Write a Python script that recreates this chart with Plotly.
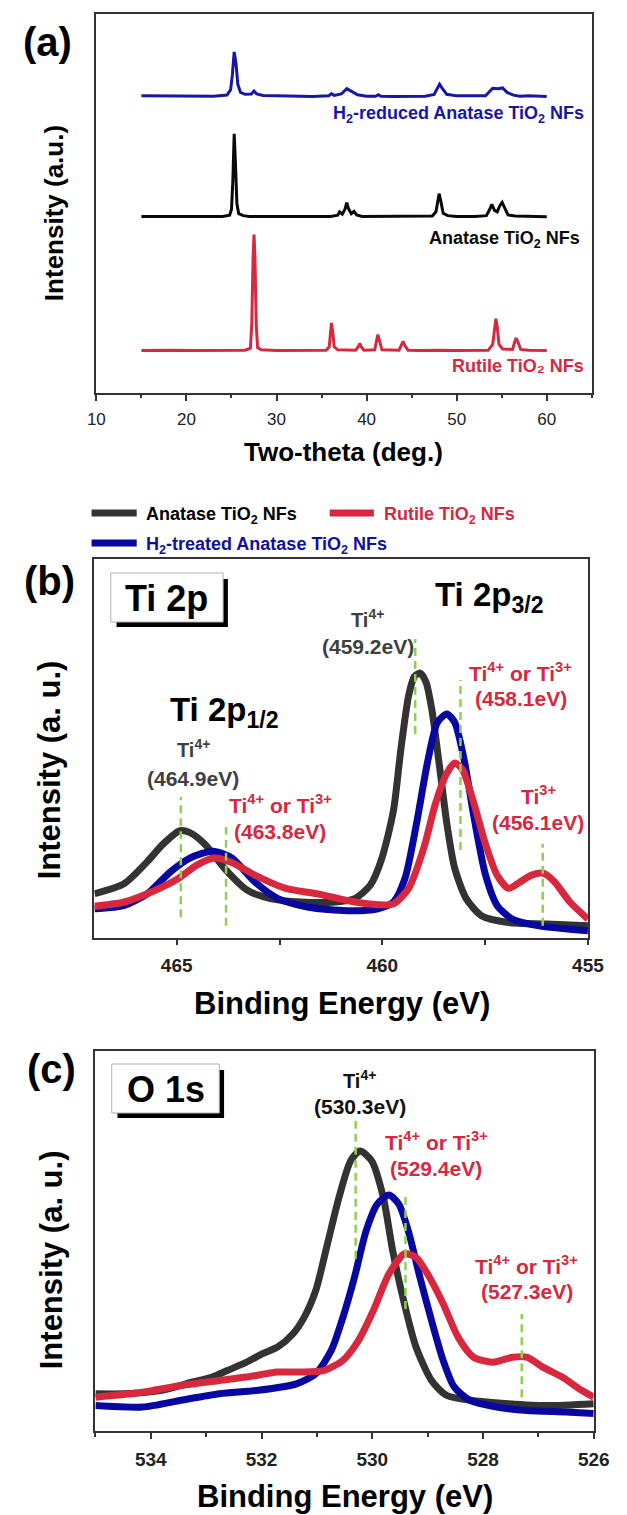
import plotly.graph_objects as go

W, H = 627, 1515
FONT = "Liberation Sans, Arial, sans-serif"

# ---------------- Panel (a): XRD data (two-theta, relative intensity) ----------------
xrd_h2_x = [15.0, 18.0, 21.0, 23.0, 24.5, 24.9, 25.1, 25.3, 25.5, 25.7, 26.0, 26.5, 27.2, 27.5, 27.8,
            28.5, 30.0, 32.0, 34.0, 35.8, 36.1, 36.4, 37.2, 37.8, 38.4, 39.0, 40.0, 41.0, 41.3, 41.6,
            43.0, 45.0, 46.5, 47.5, 47.9, 48.1, 48.4, 48.9, 50.0, 52.0, 53.2, 53.6, 54.0, 54.6, 55.1,
            55.6, 56.3, 57.0, 58.0, 60.0]
xrd_h2_y = [78.4, 78.3, 78.2, 78.3, 78.6, 80.0, 84.0, 90.0, 87.0, 81.5, 79.3, 78.8, 78.9, 79.7, 78.9,
            78.5, 78.4, 78.3, 78.2, 78.4, 79.0, 78.5, 78.9, 80.3, 79.6, 78.7, 78.3, 78.3, 78.7, 78.3,
            78.2, 78.2, 78.3, 78.8, 80.6, 81.5, 80.4, 78.8, 78.4, 78.3, 78.4, 79.4, 80.4, 80.3, 80.5,
            79.3, 78.6, 78.3, 78.4, 78.2]

xrd_an_x = [15.0, 18.0, 21.0, 24.0, 24.8, 25.0, 25.15, 25.3, 25.45, 25.6, 25.8, 26.3, 27.0, 30.0, 33.0,
            36.0, 36.8, 37.0, 37.3, 37.6, 37.8, 38.0, 38.3, 38.6, 38.9, 39.5, 42.0, 45.0, 47.3, 47.7,
            47.9, 48.05, 48.25, 48.5, 49.0, 50.0, 52.0, 53.3, 53.7, 53.9, 54.2, 54.5, 54.8, 55.05, 55.3,
            55.7, 56.5, 58.0, 60.0]
xrd_an_y = [46.6, 46.6, 46.5, 46.6, 46.9, 48.5, 56.0, 68.4, 60.0, 50.0, 47.3, 46.8, 46.6, 46.5, 46.6,
            46.6, 46.9, 47.8, 47.2, 48.5, 50.2, 48.6, 47.3, 47.9, 47.0, 46.6, 46.6, 46.5, 46.7, 47.8,
            50.5, 52.6, 50.5, 47.4, 46.8, 46.6, 46.6, 46.8, 48.6, 49.8, 48.2, 47.8, 49.5, 50.3, 49.0,
            47.0, 46.7, 46.6, 46.5]

xrd_ru_x = [15.0, 18.0, 21.0, 24.0, 26.5, 27.1, 27.25, 27.4, 27.5, 27.6, 27.75, 27.9, 28.3, 30.0, 33.0,
            35.5, 35.85, 36.0, 36.1, 36.25, 36.4, 36.8, 38.8, 39.1, 39.25, 39.4, 39.7, 40.9, 41.1, 41.25,
            41.45, 41.7, 43.6, 43.9, 44.05, 44.25, 44.6, 46.0, 48.0, 50.0, 53.5, 54.0, 54.2, 54.35, 54.5,
            54.7, 55.1, 56.2, 56.45, 56.6, 56.8, 57.1, 58.0, 60.0]
xrd_ru_y = [11.2, 11.3, 11.2, 11.2, 11.3, 11.8, 18.0, 36.0, 41.8, 36.0, 18.0, 12.0, 11.4, 11.2, 11.2,
            11.3, 12.2, 16.0, 18.5, 16.0, 12.2, 11.4, 11.3, 12.3, 13.1, 12.2, 11.3, 11.4, 13.6, 15.4,
            13.6, 11.4, 11.3, 12.7, 13.6, 12.5, 11.3, 11.2, 11.3, 11.2, 11.3, 12.8, 17.0, 19.6, 17.5,
            12.8, 11.6, 11.5, 13.5, 14.5, 13.5, 11.5, 11.3, 11.2]

xrd_labels = ["H<sub>2</sub>-reduced Anatase TiO<sub>2</sub> NFs", "Anatase TiO<sub>2</sub> NFs", "Rutile TiO₂ NFs"]
xrd_label_x = [64.4, 63.9, 64.4]
xrd_label_y = [73.5, 40.4, 7.0]

# ---------------- Panel (b): Ti 2p XPS ----------------
ti_an_x = [467.00, 466.27, 465.71, 465.34, 464.92, 464.68, 464.31, 463.84, 463.28, 462.72, 461.98, 461.14,
           460.67, 460.29, 460.01, 459.73, 459.55, 459.36, 459.22, 459.08, 458.94, 458.80, 458.61, 458.43,
           458.24, 457.96, 457.59, 456.93, 456.00, 455.00]
ti_an_y = [11.7, 14.4, 20.2, 24.7, 28.3, 27.8, 24.7, 18.4, 12.6, 10.4, 9.5, 9.5,
           10.4, 14.0, 21.1, 33.6, 49.7, 64.0, 69.0, 69.9, 67.6, 60.5, 45.3, 30.1,
           18.4, 10.4, 5.9, 4.1, 3.7, 3.2]

ti_h2_x = [467.00, 466.27, 465.71, 465.15, 464.68, 464.12, 463.66, 463.10, 462.54, 461.79, 460.86, 460.11,
           459.73, 459.45, 459.17, 458.89, 458.66, 458.43, 458.24, 458.01, 457.77, 457.49, 457.21, 456.84,
           456.19, 455.00]
ti_h2_y = [7.7, 8.6, 11.7, 17.5, 21.1, 22.9, 21.1, 14.8, 10.4, 8.1, 7.2, 7.7,
           9.5, 15.7, 30.1, 47.0, 56.9, 59.1, 56.9, 47.0, 31.8, 16.6, 8.6, 5.0,
           3.2, 1.9]

ti_ru_x = [467.00, 466.27, 465.52, 464.96, 464.50, 464.08, 463.66, 463.10, 462.35, 461.60, 460.86, 460.11,
           459.73, 459.36, 458.99, 458.71, 458.43, 458.24, 458.05, 457.77, 457.49, 457.21, 456.93, 456.65,
           456.37, 456.09, 455.81, 455.44, 455.00]
ti_ru_y = [8.4, 9.5, 12.6, 15.7, 19.3, 21.1, 19.9, 16.6, 13.1, 11.7, 9.9, 8.8,
           9.0, 13.1, 23.8, 35.4, 43.5, 46.2, 44.4, 35.4, 24.7, 16.6, 13.1, 14.8,
           16.6, 17.1, 14.8, 9.5, 5.0]

ti_peak_x = [459.2, 458.1, 464.9, 463.8, 456.1]
ti_peak_y0 = [53.8, 23.2, 5.5, 3.2, 3.2]
ti_peak_y1 = [78.9, 68.1, 37.2, 29.3, 24.8]

# ---------------- Panel (c): O 1s XPS ----------------
o_an_x = [535.00, 534.49, 533.80, 533.24, 532.89, 532.62, 532.27, 531.99, 531.71, 531.43, 531.23, 531.02,
          530.81, 530.60, 530.39, 530.22, 530.01, 529.80, 529.63, 529.42, 529.21, 528.93, 528.66, 528.24,
          527.54, 526.85, 526.00]
o_an_y = [9.8, 9.8, 10.7, 12.9, 14.2, 15.9, 18.1, 20.3, 22.1, 25.6, 29.9, 37.0,
          49.2, 61.5, 71.1, 73.7, 71.1, 61.5, 47.4, 33.5, 22.1, 13.3, 9.4, 8.1,
          7.2, 6.7, 7.2]

o_h2_x = [535.00, 534.15, 533.45, 532.76, 532.06, 531.37, 531.02, 530.74, 530.53, 530.32, 530.11, 529.91,
          529.70, 529.52, 529.35, 529.14, 528.93, 528.72, 528.52, 528.24, 527.75, 527.20, 526.50, 526.00]
o_h2_y = [6.7, 6.3, 8.1, 9.8, 10.7, 12.4, 15.1, 21.2, 29.9, 40.5, 52.7, 59.7,
          62.1, 59.7, 52.7, 40.5, 29.1, 18.6, 11.6, 8.1, 6.3, 5.4, 5.0, 4.6]

o_ru_x = [535.00, 534.15, 533.45, 532.76, 532.27, 531.71, 531.30, 530.88, 530.53, 530.25, 529.98, 529.70,
          529.42, 529.21, 529.00, 528.72, 528.45, 528.17, 527.82, 527.47, 527.20, 526.92, 526.57, 526.22,
          526.00]
o_ru_y = [8.9, 10.2, 12.0, 13.3, 14.2, 15.5, 15.5, 15.9, 18.6, 23.8, 31.7, 41.3,
          46.6, 45.7, 41.3, 33.5, 24.7, 19.4, 18.1, 19.4, 19.4, 16.8, 14.2, 10.7,
          8.9]

o_peak_x = [530.3, 529.4, 527.3]
o_peak_y0 = [45.3, 32.1, 8.9]
o_peak_y1 = [81.6, 62.3, 30.8]

# ---------------- colours ----------------
XRD_BLUE, XRD_BLACK, XRD_RED = "#1717a3", "#0a0a0a", "#d6283f"
XPS_BLACK, XPS_BLUE, XPS_RED = "#333333", "#0808a0", "#d8283e"
LBL_RED, LBL_GRAY = "#d6283f", "#404040"
GREEN = "#8fd052"
AXC = "#333333"


def px(x):
    return x / W


def py(y):
    return 1 - y / H


fig = go.Figure()

# Panel a traces
for xs, ys, c in [(xrd_h2_x, xrd_h2_y, XRD_BLUE), (xrd_an_x, xrd_an_y, XRD_BLACK), (xrd_ru_x, xrd_ru_y, XRD_RED)]:
    fig.add_trace(go.Scatter(x=xs, y=ys, mode="lines", line=dict(color=c, width=3),
                             xaxis="x", yaxis="y", showlegend=False, hoverinfo="skip"))

# Panel b traces
for xs, ys, c in [(ti_an_x, ti_an_y, XPS_BLACK), (ti_h2_x, ti_h2_y, XPS_BLUE), (ti_ru_x, ti_ru_y, XPS_RED)]:
    fig.add_trace(go.Scatter(x=xs, y=ys, mode="lines", line=dict(color=c, width=7, shape="spline", smoothing=0.7),
                             xaxis="x2", yaxis="y2", showlegend=False, hoverinfo="skip"))

# Panel c traces
for xs, ys, c in [(o_an_x, o_an_y, XPS_BLACK), (o_h2_x, o_h2_y, XPS_BLUE), (o_ru_x, o_ru_y, XPS_RED)]:
    fig.add_trace(go.Scatter(x=xs, y=ys, mode="lines", line=dict(color=c, width=7, shape="spline", smoothing=0.7),
                             xaxis="x3", yaxis="y3", showlegend=False, hoverinfo="skip"))

shapes = []
# dashed peak markers
for xv, y0, y1 in zip(ti_peak_x, ti_peak_y0, ti_peak_y1):
    shapes.append(dict(type="line", xref="x2", yref="y2", x0=xv, x1=xv, y0=y0, y1=y1,
                       line=dict(color=GREEN, width=2.5, dash="8px,5px")))
for xv, y0, y1 in zip(o_peak_x, o_peak_y0, o_peak_y1):
    shapes.append(dict(type="line", xref="x3", yref="y3", x0=xv, x1=xv, y0=y0, y1=y1,
                       line=dict(color=GREEN, width=2.5, dash="8px,5px")))


def boxed(x0, y0, x1, y1):
    # shadow then white box
    shapes.append(dict(type="rect", xref="paper", yref="paper", x0=px(x0 + 6), x1=px(x1 + 5),
                       y0=py(y1 + 5), y1=py(y0 + 6), fillcolor="black", line=dict(width=0)))
    shapes.append(dict(type="rect", xref="paper", yref="paper", x0=px(x0), x1=px(x1),
                       y0=py(y1), y1=py(y0), fillcolor="white", line=dict(color="#b0b0b0", width=1)))


boxed(106, 573, 223, 622)
boxed(107, 1064, 219, 1113)

# legend swatches for (b)
legend_items = [(86, 133, 513, XPS_BLACK), (334, 380, 513, XPS_RED), (86, 133, 543, XPS_BLUE)]
for x0, x1, yy, c in legend_items:
    shapes.append(dict(type="line", xref="paper", yref="paper", x0=px(x0), x1=px(x1), y0=py(yy), y1=py(yy),
                       line=dict(color=c, width=7)))

ann = []


def txt(text, x, y, size, color="black", bold=True, xanchor="center", xref="paper", yref="paper", angle=0):
    ann.append(dict(text=text, x=x, y=y, xref=xref, yref=yref, showarrow=False, xanchor=xanchor,
                    yanchor="middle", textangle=angle,
                    font=dict(family=FONT, size=size, color=color, weight="bold" if bold else "normal")))


# Panel labels
txt("(a)", px(40), py(42), 40)
txt("(b)", px(42), py(581), 40)
txt("(c)", px(44), py(1069), 40)

# axis titles
txt("Two-theta (deg.)", px(348), py(452), 26)
txt("Intensity (a.u.)", px(47), py(213), 26, angle=-90)
txt("Binding Energy (eV)", px(347), py(1003), 31)
txt("Intensity (a. u.)", px(42), py(770), 31, angle=-90)
txt("Binding Energy (eV)", px(350), py(1496), 31)
txt("Intensity (a. u.)", px(44), py(1260), 31, angle=-90)

# XRD labels
for t, xv, yv, c in zip(xrd_labels, xrd_label_x, xrd_label_y, [XRD_BLUE, XRD_BLACK, XRD_RED]):
    txt(t, xv, yv, 18, color=c, xanchor="right", xref="x", yref="y")

# legend texts
txt("Anatase TiO<sub>2</sub> NFs", px(141), py(515), 18, color="black", xanchor="left")
txt("Rutile TiO<sub>2</sub> NFs", px(388), py(515), 18, color=LBL_RED, xanchor="left")
txt("H<sub>2</sub>-treated Anatase TiO<sub>2</sub> NFs", px(141), py(545), 18, color="#1010a0", xanchor="left")

# boxes text
txt("Ti 2p", px(164.5), py(598), 36)
txt("O 1s", px(163), py(1089), 36)

# Panel b annotations
txt("Ti 2p<sub>3/2</sub>", 458.77, 90.0, 33, xanchor="left", xref="x2", yref="y2")
txt("Ti 2p<sub>1/2</sub>", 465.2, 59.5, 33, xanchor="left", xref="x2", yref="y2")
txt("Ti<sup>4+</sup>", 460.36, 84.2, 20, color=LBL_GRAY, xref="x2", yref="y2")
txt("(459.2eV)", 460.36, 77.0, 21, color=LBL_GRAY, xref="x2", yref="y2")
txt("Ti<sup>4+</sup> or Ti<sup>3+</sup>", 456.63, 70.2, 21, color=LBL_RED, xref="x2", yref="y2")
txt("(458.1eV)", 456.63, 63.1, 21, color=LBL_RED, xref="x2", yref="y2")
txt("Ti<sup>4+</sup>", 464.6, 49.9, 20, color=LBL_GRAY, xref="x2", yref="y2")
txt("(464.9eV)", 464.6, 42.2, 21, color=LBL_GRAY, xref="x2", yref="y2")
txt("Ti<sup>4+</sup> or Ti<sup>3+</sup>", 462.48, 35.4, 21, color=LBL_RED, xref="x2", yref="y2")
txt("(463.8eV)", 462.48, 28.2, 21, color=LBL_RED, xref="x2", yref="y2")
txt("Ti<sup>3+</sup>", 456.21, 37.7, 21, color=LBL_RED, xref="x2", yref="y2")
txt("(456.1eV)", 456.21, 30.6, 21, color=LBL_RED, xref="x2", yref="y2")

# Panel c annotations
txt("Ti<sup>4+</sup>", 530.23, 92.4, 20, color="#111111", xref="x3", yref="y3")
txt("(530.3eV)", 530.23, 85.4, 21, color="#111111", xref="x3", yref="y3")
txt("Ti<sup>4+</sup> or Ti<sup>3+</sup>", 528.84, 76.3, 21, color=LBL_RED, xref="x3", yref="y3")
txt("(529.4eV)", 528.84, 69.2, 21, color=LBL_RED, xref="x3", yref="y3")
txt("Ti<sup>4+</sup> or Ti<sup>3+</sup>", 527.21, 43.7, 21, color=LBL_RED, xref="x3", yref="y3")
txt("(527.3eV)", 527.21, 36.8, 21, color=LBL_RED, xref="x3", yref="y3")

ax_common = dict(showline=True, linecolor=AXC, linewidth=1.5, mirror=True, showgrid=False, zeroline=False,
                 ticks="outside", tickcolor=AXC, tickwidth=1.5)
y_common = dict(showline=True, linecolor=AXC, linewidth=1.5, mirror=True, showgrid=False, zeroline=False,
                showticklabels=False, ticks="", range=[0, 100], fixedrange=True)

fig.update_layout(
    width=W, height=H, autosize=False,
    margin=dict(l=0, r=0, t=0, b=0),
    paper_bgcolor="white", plot_bgcolor="white",
    showlegend=False,
    xaxis=dict(**ax_common, domain=[px(91), px(607)], range=[10, 65], tick0=10, dtick=10, ticklen=6,
               minor=dict(dtick=5, ticklen=3.5, ticks="outside", tickcolor=AXC, tickwidth=1.5),
               tickfont=dict(family=FONT, size=17, color="#222"), ticklabelstandoff=4, anchor="y"),
    yaxis=dict(**y_common, domain=[py(393), py(14)], anchor="x"),
    xaxis2=dict(**ax_common, domain=[px(89), px(603)], range=[467, 455], tick0=455, dtick=5, ticklen=5,
                minor=dict(dtick=2.5, ticklen=5, ticks="outside", tickcolor=AXC, tickwidth=1.5),
                tickfont=dict(family=FONT, size=19, color="#222", weight="bold"), ticklabelstandoff=4, anchor="y2"),
    yaxis2=dict(**y_common, domain=[py(938), py(559)], anchor="x2"),
    xaxis3=dict(**ax_common, domain=[px(90), px(609)], range=[535, 526], tick0=526, dtick=2, ticklen=6,
                minor=dict(dtick=1, ticklen=4, ticks="outside", tickcolor=AXC, tickwidth=1.5),
                tickfont=dict(family=FONT, size=19, color="#222", weight="bold"), ticklabelstandoff=4, anchor="y3"),
    yaxis3=dict(**y_common, domain=[py(1431), py(1051)], anchor="x3"),
    shapes=shapes,
    annotations=ann,
)

fig.write_html("out.html")
